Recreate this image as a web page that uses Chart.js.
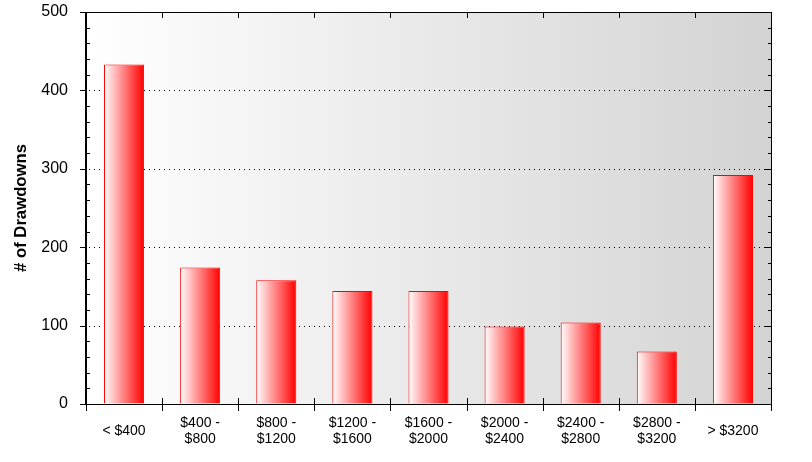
<!DOCTYPE html>
<html>
<head>
<meta charset="utf-8">
<script src="https://cdn.jsdelivr.net/npm/chart.js@4/dist/chart.umd.min.js"></script>
<style>
  html, body { margin: 0; padding: 0; background: #fff; }
  #wrap { width: 812px; height: 462px; position: relative; }
</style>
</head>
<body>
<div id="wrap"><canvas id="c" width="812" height="462"></canvas></div>
<script>
const categories = [
  '< $400',
  ['$400 -', '$800'],
  ['$800 -', '$1200'],
  ['$1200 -', '$1600'],
  ['$1600 -', '$2000'],
  ['$2000 -', '$2400'],
  ['$2400 -', '$2800'],
  ['$2800 -', '$3200'],
  '> $3200'
];
const drawdowns = [433, 174, 158, 144, 144, 99, 104, 67, 292];
const yMin = 0, yMax = 500, yMajorStep = 100, yMinorStep = 20;
const yTitle = '# of Drawdowns';
const BAR_PCT = 40 / 76;

function barGradient(context) {
  const chart = context.chart;
  const xs = chart.scales && chart.scales.x;
  if (!chart.chartArea || !xs || context.dataIndex === undefined) return '#ff8080';
  const center = xs.getPixelForValue(context.dataIndex);
  const cat = Math.abs(xs.getPixelForValue(1) - xs.getPixelForValue(0));
  const w = cat * BAR_PCT;
  const g = chart.ctx.createLinearGradient(center - w / 2, 0, center + w / 2, 0);
  g.addColorStop(0, '#ffffff');
  g.addColorStop(1, '#ff0000');
  return g;
}

const framePlugin = {
  id: 'frame',
  beforeDatasetsDraw(chart) {
    const ctx = chart.ctx, a = chart.chartArea;
    const y = chart.scales.y;
    const g = ctx.createLinearGradient(a.left, 0, a.right, 0);
    g.addColorStop(0, '#ffffff');
    g.addColorStop(1, '#d3d3d3');
    ctx.save();
    ctx.fillStyle = g;
    ctx.fillRect(a.left, a.top, a.right - a.left, a.bottom - a.top);
    ctx.strokeStyle = '#000';
    ctx.lineWidth = 1;
    ctx.setLineDash([1, 4]);
    for (let v = yMin + yMajorStep; v < yMax; v += yMajorStep) {
      const py = Math.round(y.getPixelForValue(v)) + 0.5;
      ctx.beginPath();
      ctx.moveTo(a.left + 3, py);
      ctx.lineTo(a.right, py);
      ctx.stroke();
    }
    ctx.restore();
  },
  afterDatasetsDraw(chart) {
    const ctx = chart.ctx, a = chart.chartArea;
    const y = chart.scales.y, x = chart.scales.x;
    ctx.save();
    ctx.strokeStyle = '#000';
    ctx.setLineDash([]);
    ctx.lineWidth = 1;
    ctx.beginPath();
    ctx.moveTo(a.left, a.top + 0.5); ctx.lineTo(a.right + 1, a.top + 0.5);
    ctx.moveTo(a.right + 0.5, a.top); ctx.lineTo(a.right + 0.5, a.bottom + 1);
    ctx.moveTo(a.left - 1, a.bottom + 0.5); ctx.lineTo(a.right + 1, a.bottom + 0.5);
    ctx.stroke();
    ctx.lineWidth = 2;
    ctx.beginPath();
    ctx.moveTo(a.left, a.top); ctx.lineTo(a.left, a.bottom + 1);
    ctx.stroke();
    ctx.lineWidth = 1;
    ctx.beginPath();
    for (let v = yMin; v <= yMax; v += yMinorStep) {
      const py = Math.round(y.getPixelForValue(v)) + 0.5;
      if (v % yMajorStep === 0) {
        ctx.moveTo(a.left - 6, py); ctx.lineTo(a.left, py);
        ctx.moveTo(a.right - 6, py); ctx.lineTo(a.right, py);
      } else {
        ctx.moveTo(a.left, py); ctx.lineTo(a.left + 4, py);
        ctx.moveTo(a.right - 3, py); ctx.lineTo(a.right, py);
      }
    }
    const n = categories.length;
    for (let i = 0; i <= n; i++) {
      const px = Math.round(x.getPixelForValue(i - 0.5)) + 0.5;
      ctx.moveTo(px, a.bottom - 6); ctx.lineTo(px, a.bottom + 7);
      if (i > 0 && i < n) { ctx.moveTo(px, a.top); ctx.lineTo(px, a.top + 6); }
    }
    ctx.stroke();
    ctx.restore();
  }
};

new Chart(document.getElementById('c'), {
  type: 'bar',
  data: {
    labels: categories,
    datasets: [{
      data: drawdowns,
      backgroundColor: barGradient,
      borderColor: '#ff0000',
      borderWidth: 1,
      borderSkipped: 'bottom',
      categoryPercentage: 1.0,
      barPercentage: BAR_PCT
    }]
  },
  options: {
    responsive: false,
    animation: false,
    devicePixelRatio: 1,
    layout: { padding: { top: 12, right: 41, left: 0, bottom: 0 } },
    plugins: { legend: { display: false }, tooltip: { enabled: false } },
    scales: {
      x: {
        offset: true,
        grid: { display: true, drawOnChartArea: false, drawTicks: false, color: 'rgba(0,0,0,0)' },
        border: { display: false },
        ticks: {
          color: '#000',
          font: { family: 'Liberation Sans, Arial, sans-serif', size: 14, lineHeight: '16px' },
          maxRotation: 0, minRotation: 0, autoSkip: false,
          crossAlign: 'center',
          padding: 19
        },
        afterFit(s) { s.height = 58; s.paddingLeft = 0; s.paddingRight = 0; }
      },
      y: {
        min: yMin, max: yMax,
        grid: { display: true, drawOnChartArea: false, drawTicks: false, color: 'rgba(0,0,0,0)' },
        border: { display: false },
        ticks: {
          stepSize: yMajorStep,
          color: '#000',
          font: { family: 'Liberation Sans, Arial, sans-serif', size: 16 },
          padding: 18
        },
        title: {
          display: true,
          text: yTitle,
          color: '#000',
          font: { family: 'Liberation Sans, Arial, sans-serif', size: 16.7, weight: 'bold', lineHeight: 1.2 },
          padding: { top: 11, bottom: 0 }
        },
        afterFit(s) { s.width = 86; s.paddingTop = 0; s.paddingBottom = 0; }
      }
    }
  },
  plugins: [framePlugin]
});
</script>
</body>
</html>
